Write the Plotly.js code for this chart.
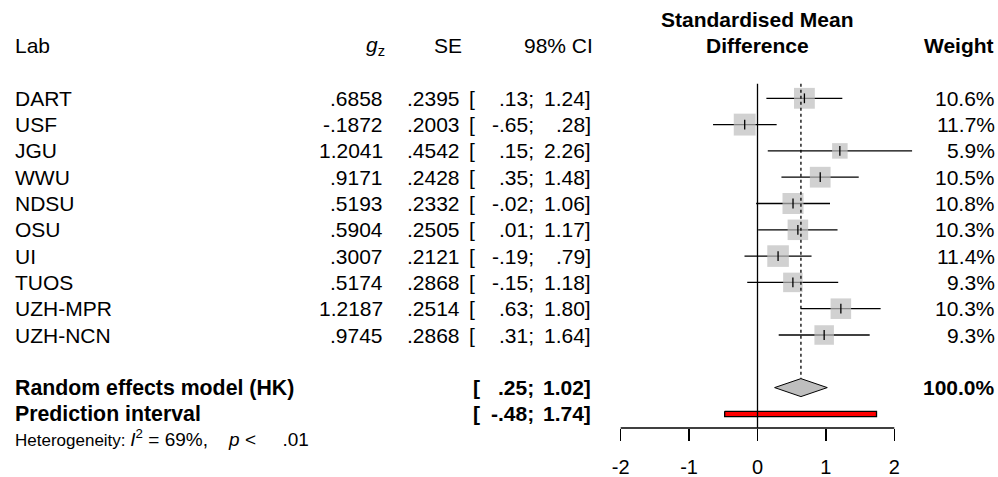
<!DOCTYPE html>
<html>
<head>
<meta charset="utf-8">
<script src="https://cdn.plot.ly/plotly-3.0.1.min.js"></script>
<style>html,body{margin:0;padding:0;background:#fff;}#chart{width:998px;height:477px;}</style>
</head>
<body>
<div id="chart"></div>
<script>
// ---- data ----
const labs = ['DART','USF','JGU','WWU','NDSU','OSU','UI','TUOS','UZH-MPR','UZH-NCN'];
const gz = [0.6858,-0.1872,1.2041,0.9171,0.5193,0.5904,0.3007,0.5174,1.2187,0.9745];
const se = [0.2395,0.2003,0.4542,0.2428,0.2332,0.2505,0.2121,0.2868,0.2514,0.2868];
const ciLo = [0.13,-0.65,0.15,0.35,-0.02,0.01,-0.19,-0.15,0.63,0.31];
const ciHi = [1.24,0.28,2.26,1.48,1.06,1.17,0.79,1.18,1.80,1.64];
const weights = [10.6,11.7,5.9,10.5,10.8,10.3,11.4,9.3,10.3,9.3];
const reEst = 0.635, reLo = 0.25, reHi = 1.02, reWeight = 100.0;
const piLo = -0.48, piHi = 1.74;
const tickVals = [-2,-1,0,1,2];
const tickLabels = ['-2','-1','0','1','2'];
const hetI2 = '69%', hetP = '.01';

// ---- layout helpers ----
const W = 998, H = 477;
const FONT = 'Liberation Sans, Arial, Helvetica, sans-serif';
const P = v => v / W;                 // pixel -> paper x
const rows = labs.map((_, i) => i + 1);
const reRow = 12, piRow = 13, hetRow = 13.9;
const axisPos = 1 - 428 / H;

const f4 = v => { let s = Math.abs(v).toFixed(4); if (s[0] === '0') s = s.slice(1); return (v < 0 ? '-' : '') + s; };
const f2 = v => { let s = Math.abs(v).toFixed(2); if (s[0] === '0') s = s.slice(1); return (v < 0 ? '-' : '') + s; };
const NB = n => '\u00a0'.repeat(n);

const ann = [];
function txt(text, xpx, y, anchor, opts) {
  opts = opts || {};
  ann.push({
    text: text, xref: 'paper', yref: 'y', x: P(xpx), y: y, xanchor: anchor, yanchor: 'middle',
    showarrow: false, borderpad: 0,
    font: { family: FONT, size: opts.size || 21, color: '#000' }
  });
}
const b = s => '<b>' + s + '</b>';

// headers
txt('Lab', 14, -1, 'left');
txt('<i>g</i><sub>z</sub>', 386, -1, 'right');
txt('SE', 463, -1, 'right');
txt('98% CI', 594, -1, 'right');
txt(b('Standardised Mean'), 757.5, -2, 'center');
txt(b('Difference'), 757.5, -1, 'center');
txt(b('Weight'), 995, -1, 'right');

// study rows
labs.forEach((l, i) => {
  const r = rows[i];
  txt(l, 14, r, 'left');
  txt(f4(gz[i]), 384, r, 'right');
  txt(f4(se[i]), 461, r, 'right');
  txt('[', 468, r, 'left');
  txt(f2(ciLo[i]) + ';', 535, r, 'right');
  txt(f2(ciHi[i]) + ']', 592, r, 'right');
  txt(weights[i].toFixed(1) + '%', 996, r, 'right');
});

// summary rows
txt(b('Random effects model (HK)'), 14, reRow, 'left', { size: 21.3 });
txt(b('['), 472, reRow, 'left');
txt(b(f2(reLo) + ';'), 535, reRow, 'right');
txt(b(f2(reHi) + ']'), 592, reRow, 'right');
txt(b(reWeight.toFixed(1) + '%'), 996, reRow, 'right');
txt(b('Prediction interval'), 14, piRow, 'left', { size: 21.3 });
txt(b('['), 472, piRow, 'left');
txt(b(f2(piLo) + ';'), 535, piRow, 'right');
txt(b(f2(piHi) + ']'), 592, piRow, 'right');
txt('Heterogeneity: <span style="font-size:19px"><i>I</i><sup>2</sup> = ' + hetI2 + ',' + NB(4) +
    '<i>p</i> &lt;' + NB(5) + hetP + '</span>', 14, hetRow, 'left', { size: 17 });

// ---- traces ----
const ciX = [], ciY = [];
rows.forEach((r, i) => { ciX.push(ciLo[i], ciHi[i], null); ciY.push(r, r, null); });
const dh = 0.342, bh = 0.1;

const traces = [
  { type: 'scatter', mode: 'lines', x: ciX, y: ciY, line: { color: '#000', width: 1.3 }, hoverinfo: 'skip' },
  { type: 'scatter', mode: 'markers', x: gz, y: rows,
    marker: { symbol: 'square', size: weights.map(w => 6.4 * Math.sqrt(w)), color: '#bebebe', line: { width: 0 } }, hoverinfo: 'skip' },
  { type: 'scatter', mode: 'markers', x: gz, y: rows,
    marker: { symbol: 'line-ns', size: 7, line: { color: '#000', width: 1.3 } }, hoverinfo: 'skip' },
  { type: 'scatter', mode: 'lines', x: [reLo, reEst, reHi, reEst, reLo], y: [reRow, reRow - dh, reRow, reRow + dh, reRow],
    fill: 'toself', fillcolor: '#bebebe', line: { color: '#000', width: 1 }, hoverinfo: 'skip' },
  { type: 'scatter', mode: 'lines', x: [piLo, piHi, piHi, piLo, piLo], y: [piRow - bh, piRow - bh, piRow + bh, piRow + bh, piRow - bh],
    fill: 'toself', fillcolor: '#ff0000', line: { color: '#000', width: 1.3 }, hoverinfo: 'skip' }
];

const layout = {
  width: W, height: H, margin: { l: 0, r: 0, t: 0, b: 0 },
  paper_bgcolor: '#fff', plot_bgcolor: '#fff', showlegend: false,
  xaxis: { range: [-11.0746, 3.5161], anchor: 'free', position: axisPos,
    tickmode: 'array', tickvals: tickVals, ticktext: tickLabels,
    ticks: 'outside', ticklen: 12, tickwidth: 1.3, tickcolor: '#000', ticklabelstandoff: 9,
    showline: false, showgrid: false, zeroline: false, fixedrange: true,
    tickfont: { family: FONT, size: 20, color: '#000' } },
  yaxis: { range: [15.399, -2.7376], visible: false, fixedrange: true },
  shapes: [
    { type: 'line', xref: 'x', yref: 'paper', x0: tickVals[0], x1: tickVals[tickVals.length - 1], y0: axisPos, y1: axisPos, line: { color: '#000', width: 1.3 } },
    { type: 'line', xref: 'x', yref: 'y', x0: 0, x1: 0, y0: 0.45, y1: 13.53, line: { color: '#000', width: 1.3 } },
    { type: 'line', xref: 'x', yref: 'y', x0: reEst, x1: reEst, y0: 0.45, y1: reRow - dh, line: { color: '#000', width: 1.3, dash: '3px,3px' } }
  ],
  annotations: ann
};

Plotly.newPlot('chart', traces, layout, { staticPlot: true, displayModeBar: false });
</script>
</body>
</html>
